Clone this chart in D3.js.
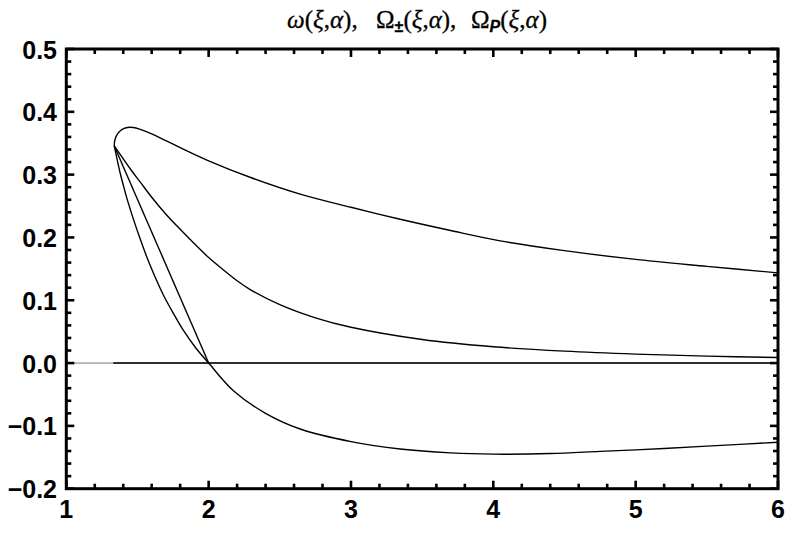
<!DOCTYPE html>
<html><head><meta charset="utf-8">
<script src="https://cdn.jsdelivr.net/npm/d3@7"></script>
<style>html,body{margin:0;padding:0;background:#fff;}svg{display:block;}</style>
</head><body>
<svg id="chart" width="800" height="536"></svg>
<script>
// ---- data ----
const xTickLabels = [1, 2, 3, 4, 5, 6];
const yTickLabels = [-0.2, -0.1, 0.0, 0.1, 0.2, 0.3, 0.4, 0.5];
const omegaCurve = [
  [1.337,0.3457],[1.339,0.352],[1.345,0.358],[1.36,0.365],[1.38,0.370],[1.40,0.373],
  [1.43,0.375],[1.47,0.375],[1.52,0.372],[1.6,0.365],[1.7,0.354],[1.8,0.343],
  [2.0,0.322],[2.3,0.295],[2.643,0.269],[3.0,0.248],[3.345,0.229],[3.7,0.211],
  [4.048,0.1946],[4.5,0.179],[5.0,0.165],[5.5,0.154],[6.0,0.1436]
];
const omegaPlus = [
  [1.337,0.3457],[1.45,0.309],[1.52,0.288],[1.6,0.264],[1.7,0.237],[1.8,0.213],
  [1.9,0.190],[2.0,0.168],[2.1,0.149],[2.2,0.131],[2.292,0.117],[2.5,0.093],
  [2.75,0.072],[3.0,0.057],[3.5,0.0375],[4.0,0.026],[4.5,0.019],[5.0,0.0143],
  [5.5,0.011],[6.0,0.0088]
];
const omegaMinus = [
  [1.337,0.3457],[1.36,0.321],[1.38,0.301],[1.402,0.282],[1.43,0.259],[1.473,0.228],
  [1.52,0.197],[1.567,0.168],[1.62,0.139],[1.683,0.108],[1.75,0.080],[1.824,0.0515],
  [1.91,0.024],[2.0,0.0],[2.174,-0.044],[2.4,-0.08],[2.643,-0.105],[3.0,-0.125],
  [3.345,-0.1368],[3.7,-0.143],[4.0,-0.145],[4.4,-0.144],[4.75,-0.1406],[5.2,-0.136],
  [5.6,-0.131],[6.0,-0.126]
];
const omegaP = [[1.337,0.3457],[2.0,0.0]];
const zeroBranch = [[1.33,0.0],[6.0,0.0]];

// ---- layout ----
const L = 66.3, R = 778, T = 49, B = 488.7;
const svg = d3.select("#chart");
const x = d3.scaleLinear().domain([1, 6]).range([L, R]);
const y = d3.scaleLinear().domain([-0.2, 0.5]).range([B, T]);

// axis line at y=0 (gray)
svg.append("line").attr("x1", L).attr("x2", R).attr("y1", y(0)).attr("y2", y(0))
  .attr("stroke", "#777").attr("stroke-width", 1);

// clip
svg.append("clipPath").attr("id","clip").append("rect")
  .attr("x", L).attr("y", T).attr("width", R-L).attr("height", B-T);

const line = d3.line().x(d => x(d[0])).y(d => y(d[1])).curve(d3.curveCatmullRom.alpha(0.5));
const g = svg.append("g").attr("clip-path","url(#clip)");
[zeroBranch, omegaP, omegaMinus, omegaPlus, omegaCurve].forEach(s => {
  g.append("path").attr("d", line(s)).attr("fill","none")
    .attr("stroke","#000").attr("stroke-width",1.4);
});

// ticks
const xMinor = d3.range(0, 26).map(i => 1 + i*0.2).filter(v => Math.abs(v - Math.round(v)) > 1e-6);
const yMinor = d3.range(0, 36).map(i => -0.2 + i*0.02).filter(v => Math.abs(v*10 - Math.round(v*10)) > 1e-6);
const tk = svg.append("g").attr("stroke","#000").attr("stroke-width",2.6);
function tick(x1,y1,x2,y2){ tk.append("line").attr("x1",x1).attr("y1",y1).attr("x2",x2).attr("y2",y2); }
xTickLabels.forEach(v => { tick(x(v),B,x(v),B-8); tick(x(v),T,x(v),T+8); });
xMinor.forEach(v => { tick(x(v),B,x(v),B-5); tick(x(v),T,x(v),T+5); });
yTickLabels.forEach(v => { tick(L,y(v),L+8,y(v)); tick(R,y(v),R-8,y(v)); });
yMinor.forEach(v => { tick(L,y(v),L+5,y(v)); tick(R,y(v),R-5,y(v)); });

// frame
svg.append("rect").attr("x",L).attr("y",T).attr("width",R-L).attr("height",B-T)
  .attr("fill","none").attr("stroke","#000").attr("stroke-width",3);

// labels
const lab = svg.append("g").attr("font-family","'Liberation Sans', Arial, sans-serif")
  .attr("font-weight","bold").attr("font-size",25).attr("fill","#000");
xTickLabels.forEach(v => lab.append("text").attr("x",x(v)).attr("y",518)
  .attr("text-anchor","middle").text(d3.format("d")(v)));
yTickLabels.forEach(v => lab.append("text").attr("x",57).attr("y",y(v)+9.5)
  .attr("text-anchor","end").text(d3.format(".1f")(Math.abs(v) < 1e-9 ? 0 : v).replace("-","\u2212\u2009")));

// title (three parts)
const titleParts = [
  {x: 287, segs: [["\u03c9","i"],["(",""],["\u03be","i"],[",",""],["\u03b1","i"],["),",""]]},
  {x: 376, segs: [["\u03a9",""],["\u00b1","sub"],["(","up"],["\u03be","i"],[",",""],["\u03b1","i"],["),",""]]},
  {x: 471, segs: [["\u03a9",""],["P","subP"],["(","up"],["\u03be","i"],[",",""],["\u03b1","i"],[")",""]]}
];
titleParts.forEach(p => {
  const t = svg.append("text").attr("x", p.x).attr("y", 28)
    .attr("font-family","'Liberation Serif','Times New Roman',serif").attr("font-size",25)
    .attr("fill","#000").attr("stroke","#000").attr("stroke-width",0.3);
  p.segs.forEach(([txt,s]) => {
    const ts = t.append("tspan").text(txt);
    if (s === "i") ts.attr("font-style","italic");
    if (s === "sub") ts.attr("font-size",16).attr("dy",4).attr("font-family","'Liberation Sans',sans-serif").attr("font-weight","bold");
    if (s === "subP") ts.attr("font-size",16).attr("dy",4).attr("font-family","'Liberation Sans',sans-serif").attr("font-style","italic").attr("font-weight","bold");
    if (s === "up") ts.attr("dy",-4);
  });
});
</script>
</body></html>
